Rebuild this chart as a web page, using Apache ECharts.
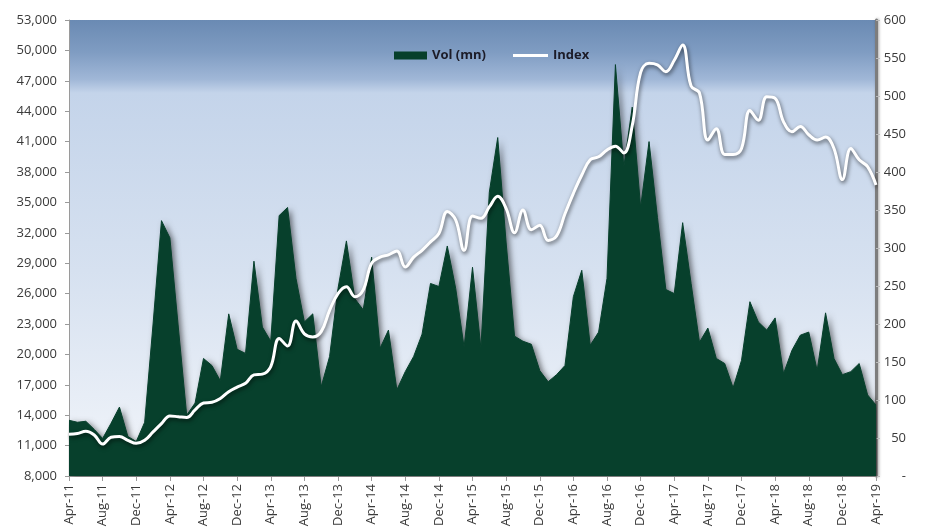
<!DOCTYPE html>
<html>
<head>
<meta charset="utf-8">
<script src="https://cdn.jsdelivr.net/npm/echarts@6/dist/echarts.min.js"></script>
<style>
  html, body { margin: 0; padding: 0; background: #ffffff; }
  #chart { width: 932px; height: 530px; }
</style>
</head>
<body>
<div id="chart"></div>
<script>
// Monthly categories, Apr-11 through Apr-19
const monthNames = ['Jan','Feb','Mar','Apr','May','Jun','Jul','Aug','Sep','Oct','Nov','Dec'];
const months = [];
for (let k = 0; k < 97; k++) {
  const m = (3 + k) % 12;
  const yr = 11 + Math.floor((3 + k) / 12);
  months.push(monthNames[m] + '-' + yr);
}

// Traded volume (mn), left axis
const vol = [
  13500, 13300, 13400, 12600, 11700, 13200, 14800, 11900, 11400, 13300,
  23000, 33200, 31500, 22700, 14000, 15200, 19600, 18900, 17400, 24000,
  20500, 20100, 29200, 22700, 21300, 33700, 34500, 27500, 23200, 24000,
  16800, 19800, 26500, 31200, 25500, 24400, 29600, 20600, 22400, 16500,
  18300, 19800, 22000, 27000, 26700, 30700, 26500, 20700, 28600, 20600,
  36000, 41400, 31000, 21800, 21300, 21000, 18400, 17300, 18000, 18900,
  25700, 28300, 20900, 22200, 27500, 48600, 38500, 44400, 34500, 41000,
  33500, 26400, 26000, 33000, 27000, 21200, 22600, 19600, 19100, 16700,
  19400, 25200, 23200, 22400, 23600, 18100, 20400, 21900, 22200, 18400,
  24100, 19600, 18000, 18300, 19100, 16000, 15000
];

// Index level, right axis
const idx = [
  55, 56, 59, 54, 42, 51, 52, 47, 43, 47,
  58, 69, 79, 78, 77, 87, 96, 97, 102, 111,
  117, 122, 133, 134, 144, 181, 171, 204, 187, 183,
  190, 218, 240, 249, 236, 245, 280, 288, 291, 296,
  275, 288, 297, 308, 319, 348, 337, 297, 342, 339,
  354, 368, 352, 320, 350, 324, 330, 310, 316, 345,
  372, 396, 416, 420, 429, 434, 425, 461, 531, 543,
  541, 532, 547, 567, 513, 504, 442, 457, 423, 423,
  431, 481, 468, 499, 497, 466, 453, 460, 449, 442,
  446, 431, 390, 431, 416, 407, 383
];

const FONT = 'Open Sans';
const chart = echarts.init(document.getElementById('chart'), null, { renderer: 'canvas' });

chart.setOption({
  animation: false,
  backgroundColor: '#ffffff',
  textStyle: { fontFamily: FONT },
  grid: {
    left: 69, right: 56, top: 20, bottom: 54,
    show: true,
    borderWidth: 0,
    backgroundColor: {
      type: 'linear', x: 0, y: 0, x2: 0, y2: 1,
      colorStops: [
        { offset: 0, color: '#6a8ab3' },
        { offset: 0.07, color: '#7f9cc2' },
        { offset: 0.13, color: '#a0b7d7' },
        { offset: 0.16, color: '#c4d4ea' },
        { offset: 0.55, color: '#d6e1f0' },
        { offset: 1, color: '#f2f5fa' }
      ]
    }
  },
  legend: [
    {
      data: ['Vol (mn)'],
      left: 389, top: 44,
      icon: 'rect',
      itemWidth: 33, itemHeight: 8,
      textStyle: { fontFamily: FONT, fontSize: 13, fontWeight: 'bold', color: '#1c1c28' }
    },
    {
      data: ['Index'],
      left: 508, top: 44,
      icon: 'rect',
      itemWidth: 35, itemHeight: 3,
      textStyle: { fontFamily: FONT, fontSize: 13, fontWeight: 'bold', color: '#1c1c28' }
    }
  ],
  xAxis: {
    type: 'category',
    data: months,
    boundaryGap: false,
    axisLine: { lineStyle: { color: '#9a9a9a', width: 1 } },
    axisTick: { interval: 3, length: 5, lineStyle: { color: '#9a9a9a' } },
    axisLabel: {
      interval: 3,
      rotate: 90,
      margin: 8,
      fontFamily: FONT,
      fontSize: 13,
      color: '#3a3a3a'
    },
    splitLine: { show: false }
  },
  yAxis: [
    {
      type: 'value',
      min: 8000, max: 53000, interval: 3000,
      position: 'left',
      axisLine: { show: true, lineStyle: { color: '#9a9a9a' } },
      axisTick: { show: true, length: 4, lineStyle: { color: '#9a9a9a' } },
      axisLabel: {
        margin: 12,
        fontFamily: FONT, fontSize: 13, color: '#3a3a3a',
        formatter: v => v.toLocaleString('en-US')
      },
      splitLine: { show: false }
    },
    {
      type: 'value',
      min: 0, max: 600, interval: 50,
      position: 'right',
      axisLine: {
        show: true,
        lineStyle: { color: '#7d7d7d', width: 3, shadowColor: 'rgba(0,0,0,0.35)', shadowBlur: 3, shadowOffsetX: 1 }
      },
      axisTick: { show: true, length: 4, lineStyle: { color: '#bbbbbb' } },
      axisLabel: {
        margin: 30,
        align: 'right',
        fontFamily: FONT, fontSize: 13, color: '#3a3a3a',
        formatter: v => (v === 0 ? '-' : String(v))
      },
      splitLine: { show: false }
    }
  ],
  series: [
    {
      name: 'Vol (mn)',
      type: 'line',
      yAxisIndex: 0,
      data: vol,
      symbol: 'none',
      smooth: false,
      itemStyle: { color: '#07402c' },
      lineStyle: { color: '#07402c', width: 1 },
      areaStyle: {
        color: '#07402c',
        opacity: 1,
        shadowColor: 'rgba(0,0,0,0.55)',
        shadowBlur: 6,
        shadowOffsetX: 3,
        shadowOffsetY: 2
      },
      z: 2
    },
    {
      name: 'Index',
      type: 'line',
      yAxisIndex: 1,
      data: idx,
      symbol: 'none',
      smooth: 0.4,
      itemStyle: { color: '#ffffff' },
      lineStyle: {
        color: '#ffffff',
        width: 3,
        shadowColor: 'rgba(0,0,0,0.6)',
        shadowBlur: 4,
        shadowOffsetX: 1,
        shadowOffsetY: 2
      },
      z: 3
    }
  ]
});
</script>
</body>
</html>
